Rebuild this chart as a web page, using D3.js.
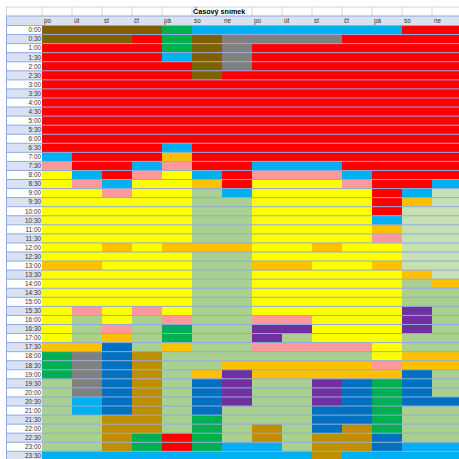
<!DOCTYPE html>
<html lang="cs">
<head>
  <meta charset="UTF-8" />
  <title>Časový snímek</title>
  <style>
    body { margin: 0; padding: 0; background: #fff; }
    svg { display: block; font-family: "Liberation Sans", Arial, sans-serif; }
  </style>
</head>
<body>
  <svg id="chart"></svg>

  <script src="https://d3js.org/d3.v7.min.js"></script>
  <script>
    // two weeks of days, half-hour slots
    const days = ["po", "út", "st", "čt", "pá", "so", "ne", "po", "út", "st", "čt", "pá", "so", "ne"];
    const times = d3.range(48).map(i => `${Math.floor(i / 2)}:${i % 2 ? "30" : "00"}`);

    // activity code per slot, one string per row, one character per day
    const schedule = [
      "BBBBGLLLLLLLRR",
      "BBBRGBAAAARRRR",
      "RRRRGBARRRRRRR",
      "RRRRLBARRRRRRR",
      "RRRRRBARRRRRRR",
      "RRRRRBRRRRRRRR",
      "RRRRRRRRRRRRRR",
      "RRRRRRRRRRRRRR",
      "RRRRRRRRRRRRRR",
      "RRRRRRRRRRRRRR",
      "RRRRRRRRRRRRRR",
      "RRRRRRRRRRRRRR",
      "RRRRRRRRRRRRRR",
      "RRRRLRRRRRRRRR",
      "LRRRORRRRRRRRR",
      "PRRLPRRLLLRRRR",
      "YLRPYLRPPPLRRR",
      "YPLYYORYYYPRRL",
      "YYPYYgLYYYYRLv",
      "YYYYYggYYYYROv",
      "YYYYYggYYYYRvv",
      "YYYYYggYYYYLvv",
      "YYYYYggYYYYOvv",
      "YYYYYggYYYYPvv",
      "YYOYOOOYYOYYvv",
      "YYYYYggYYYYYvv",
      "OOYYYggOOYYOvv",
      "YYYYYggYYYYYOv",
      "YYYYYggYYYYYgO",
      "YYYYYggYYYYYgg",
      "YYYYYggYYYYYgg",
      "YPYPYggYYYYYUg",
      "YgYgPggPPYYYUg",
      "YgPgGggUUYYYUg",
      "YgOgGggUgYYYgg",
      "OODgOggPPPPYgg",
      "GADKgggggggYOO",
      "GADKggOOOOOPOO",
      "GADKgOUOOOOODg",
      "gADKgDUggUDGDg",
      "gADKgDUggUDGDg",
      "gLDKgDUggUDGDD",
      "gLDKgDgggDDGgg",
      "ggKKgGgggDDGgg",
      "ggKKgGgKgDKGgg",
      "ggKGRGgKgKKDgg",
      "ggKGRGLLgKKDLL",
      "LLLLLLLLLKLLLL"
    ];

    const palette = {
      B: "#806000", G: "#00B050", L: "#00B0F0", R: "#FF0000", A: "#808080",
      Y: "#FFFF00", P: "#FF9999", O: "#FFC000", g: "#A9D08E", v: "#C6E0B4",
      U: "#7030A0", D: "#0070C0", K: "#BF8F00"
    };

    const W = 459, H = 459;
    const gridBlue = "#8EA9DB", lavender = "#D9E1F2";
    const top0 = 25.5, rowH = 9.06;

    const svg = d3.select("#chart").attr("width", W).attr("height", H);

    const x = d3.scaleBand().domain(d3.range(days.length)).range([42, 42 + 30 * days.length]);
    const y = d3.scaleBand().domain(times).range([top0, top0 + rowH * times.length]);

    const cells = [];
    schedule.forEach((row, r) => {
      row.split("").forEach((c, d) => cells.push({ t: times[r], d, c }));
    });

    // title row
    svg.append("rect").attr("x", 6).attr("y", 7).attr("width", W).attr("height", 9).attr("fill", "#fff");
    const titleLines = [6.5, 42, 72, 102, 132, 162, 192, 252, 282, 312, 342, 372, 402, 432];
    svg.append("g").selectAll("line").data(titleLines).join("line")
      .attr("x1", d => d).attr("x2", d => d).attr("y1", 7).attr("y2", 16)
      .attr("stroke", "#d4d4d4").attr("stroke-width", 1);
    svg.append("line").attr("x1", 6).attr("x2", W).attr("y1", 7).attr("y2", 7)
      .attr("stroke", "#d4d4d4");
    svg.append("text").attr("x", 193).attr("y", 14.2)
      .attr("font-size", 7.2).attr("font-weight", "bold").attr("fill", "#000")
      .text("Časový snímek");

    // day header row
    svg.append("rect").attr("x", 6).attr("y", 16).attr("width", W).attr("height", top0 - 16).attr("fill", lavender);
    svg.append("g").selectAll("text").data(days).join("text")
      .attr("x", (d, i) => x(i) + 2).attr("y", 23.2)
      .attr("font-size", 6.3).attr("fill", "#333")
      .text(d => d);

    // time label column, alternating backgrounds
    svg.append("g").selectAll("rect").data(times).join("rect")
      .attr("x", 6.5).attr("y", d => y(d)).attr("width", 42 - 6.5).attr("height", y.bandwidth())
      .attr("fill", (d, i) => i % 2 ? lavender : "#fff");
    svg.append("g").selectAll("text").data(times).join("text")
      .attr("x", 41).attr("y", d => y(d) + y.bandwidth() / 2 + 2.3)
      .attr("text-anchor", "end").attr("font-size", 6.4).attr("fill", "#333")
      .text(d => d);

    // schedule cells
    svg.append("g").selectAll("rect").data(cells).join("rect")
      .attr("x", d => x(d.d)).attr("y", d => y(d.t))
      .attr("width", x.bandwidth()).attr("height", y.bandwidth())
      .attr("fill", d => palette[d.c]);

    // row separators
    svg.append("g").selectAll("line").data(times.concat(["end"])).join("line")
      .attr("x1", 6).attr("x2", W)
      .attr("y1", (d, i) => top0 + rowH * i).attr("y2", (d, i) => top0 + rowH * i)
      .attr("stroke", gridBlue).attr("stroke-width", 1);
    svg.append("line").attr("x1", 6).attr("x2", W).attr("y1", 16).attr("y2", 16)
      .attr("stroke", gridBlue);
    svg.append("line").attr("x1", 6.5).attr("x2", 6.5).attr("y1", 16).attr("y2", H)
      .attr("stroke", gridBlue);
  </script>
</body>
</html>
